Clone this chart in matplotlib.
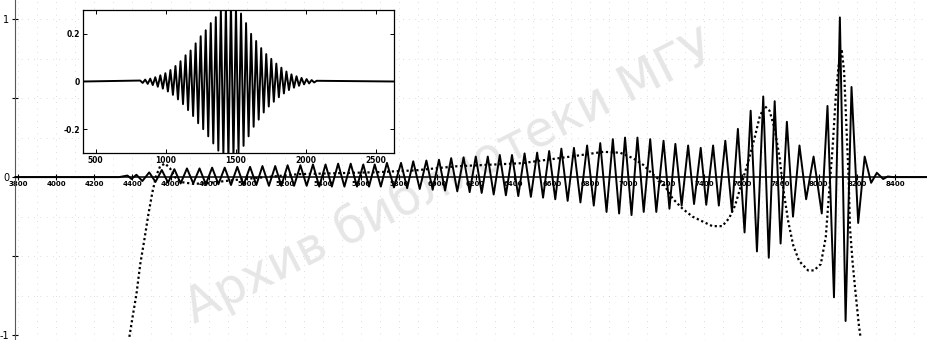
import matplotlib
matplotlib.use('Agg')
import matplotlib.pyplot as plt
import numpy as np
from matplotlib.ticker import FixedLocator

# --- main trace: peaks and troughs ---
peak_x = [4488, 4554, 4620, 4686, 4752, 4818, 4884, 4950, 5017, 5082,
          5149, 5214, 5281, 5347, 5413, 5479, 5545, 5611, 5671, 5735,
          5809, 5873, 5942, 6008, 6072, 6137, 6201, 6264, 6327, 6391,
          6457, 6523, 6586, 6650, 6716, 6785, 6854, 6920, 6984, 7049,
          7116, 7186, 7248, 7315, 7381, 7446, 7510, 7576, 7643, 7709,
          7769, 7833, 7899, 7973, 8046, 8111, 8172, 8241, 8305]
peak_y = [0.03, 0.045, 0.05, 0.055, 0.055, 0.06, 0.06, 0.065, 0.065, 0.07,
          0.07, 0.075, 0.075, 0.08, 0.08, 0.085, 0.085, 0.08, 0.08, 0.09,
          0.09, 0.10, 0.105, 0.11, 0.12, 0.125, 0.13, 0.13, 0.14, 0.14,
          0.15, 0.155, 0.165, 0.18, 0.185, 0.20, 0.215, 0.24, 0.25, 0.25,
          0.24, 0.23, 0.21, 0.20, 0.185, 0.20, 0.23, 0.305, 0.42, 0.51,
          0.48, 0.35, 0.20, 0.13, 0.45, 1.01, 0.57, 0.13, 0.027]
trough_x = [4521, 4587, 4653, 4719, 4785, 4851, 4917, 4983, 5050, 5116,
            5181, 5248, 5314, 5380, 5446, 5512, 5578, 5641, 5703, 5772,
            5841, 5907, 5975, 6040, 6104, 6169, 6232, 6295, 6359, 6424,
            6490, 6554, 6618, 6683, 6750, 6820, 6887, 6953, 7018, 7082,
            7148, 7217, 7281, 7346, 7410, 7476, 7545, 7611, 7676, 7738,
            7800, 7865, 7934, 8016, 8080, 8141, 8207, 8275]
trough_y = [-0.03, -0.035, -0.04, -0.04, -0.045, -0.045, -0.05, -0.05, -0.05, -0.055,
            -0.055, -0.055, -0.055, -0.06, -0.06, -0.06, -0.06, -0.06, -0.06, -0.065,
            -0.07, -0.075, -0.08, -0.085, -0.09, -0.095, -0.10, -0.11, -0.115, -0.12,
            -0.125, -0.13, -0.14, -0.15, -0.16, -0.18, -0.22, -0.23, -0.24, -0.22,
            -0.22, -0.20, -0.18, -0.17, -0.175, -0.18, -0.22, -0.35, -0.47, -0.51,
            -0.42, -0.25, -0.14, -0.23, -0.76, -0.91, -0.29, -0.036]
# flat lead-in / tail with the small wiggles
lead_x = [3784, 4330, 4374, 4395, 4421, 4452]
lead_y = [0, 0, 0.01, -0.012, 0.015, -0.025]
tail_x = [8338, 8362, 8390, 8568]
tail_y = [-0.012, 0.004, 0, 0]

# --- dotted trace ---
dot_x = [4384, 4400, 4421, 4441, 4462, 4483, 4504, 4524, 4545, 4571,
         4597, 4623, 4654, 4721, 4799, 4928, 5099, 5276, 5483, 5680,
         5887, 6094, 6441, 6700, 6871, 6959, 7027, 7079, 7130, 7182,
         7234, 7286, 7338, 7390, 7442, 7494, 7530, 7561, 7597, 7633,
         7664, 7690, 7716, 7742, 7768, 7794, 7814, 7840, 7866, 7897,
         7944, 7975, 8011, 8037, 8053, 8073, 8089, 8104, 8120, 8133,
         8146, 8157, 8164, 8177, 8193, 8211, 8219]
dot_y = [-1.01, -0.89, -0.74, -0.55, -0.40, -0.24, -0.10, 0.006, 0.068, 0.086,
         0.056, 0.0, -0.031, -0.043, -0.037, -0.019, 0.0, 0.019, 0.025, 0.031,
         0.043, 0.068, 0.088, 0.13, 0.16, 0.154, 0.119, 0.078, 0.017, -0.035,
         -0.136, -0.20, -0.25, -0.28, -0.31, -0.31, -0.26, -0.18, -0.035, 0.11,
         0.25, 0.38, 0.45, 0.42, 0.31, 0.13, -0.074, -0.28, -0.43, -0.53,
         -0.59, -0.59, -0.55, -0.38, -0.12, 0.19, 0.50, 0.70, 0.81, 0.67,
         0.30, -0.01, -0.32, -0.53, -0.73, -0.94, -1.01]

# --- inset wave packet ---
ins_peak_x = [818, 854, 890, 926, 962, 998, 1034, 1070, 1106, 1142,
              1178, 1214, 1250, 1286, 1322, 1358, 1394, 1430, 1466, 1502,
              1538, 1574, 1610, 1646, 1682, 1718, 1754, 1790, 1826, 1862,
              1898, 1934, 1970, 2006, 2042, 2078]
ins_peak_y = [0.004, 0.008, 0.012, 0.018, 0.026, 0.035, 0.048, 0.065, 0.085, 0.11,
              0.13, 0.16, 0.19, 0.215, 0.245, 0.27, 0.30, 0.32, 0.33, 0.31,
              0.285, 0.245, 0.20, 0.17, 0.14, 0.115, 0.095, 0.075, 0.058, 0.042,
              0.03, 0.022, 0.015, 0.01, 0.006, 0.003]
ins_trough_x = [836, 872, 908, 944, 980, 1016, 1052, 1088, 1124, 1160,
                1196, 1232, 1268, 1304, 1340, 1376, 1412, 1448, 1484, 1520,
                1556, 1592, 1628, 1664, 1700, 1736, 1772, 1808, 1844, 1880,
                1916, 1952, 1988, 2024, 2060]
ins_trough_y = [-0.006, -0.01, -0.015, -0.022, -0.03, -0.042, -0.056, -0.075, -0.095, -0.12,
                -0.145, -0.175, -0.2, -0.23, -0.26, -0.29, -0.31, -0.33, -0.32, -0.3,
                -0.27, -0.23, -0.19, -0.16, -0.13, -0.105, -0.085, -0.066, -0.05, -0.036,
                -0.026, -0.018, -0.012, -0.008, -0.004]
ins_edge_x = [410, 2630]

main_xticks = list(range(3800, 8401, 200))
ins_xticks = [500, 1000, 1500, 2000, 2500]
ins_yticks = [-0.2, 0, 0.2]
ins_ylabels = ['-0.2', '0', '0.2']


def merge(*pairs):
    xs = np.concatenate([np.asarray(p[0], float) for p in pairs])
    ys = np.concatenate([np.asarray(p[1], float) for p in pairs])
    order = np.argsort(xs)
    return xs[order], ys[order]


sig_x, sig_y = merge((lead_x, lead_y), (peak_x, peak_y), (trough_x, trough_y), (tail_x, tail_y))
pk_x, pk_y = merge((ins_edge_x, [0, 0]), (ins_peak_x, ins_peak_y), (ins_trough_x, ins_trough_y))

W, H = 927, 340
fig = plt.figure(figsize=(W / 100, H / 100), dpi=100)
fig.patch.set_facecolor('white')

ax = fig.add_axes([15 / W, 0, 912 / W, 1])
ax.set_facecolor('none')
ax.set_xlim(3784, 8568)
ax.set_ylim(-1.03, 1.12)

# faint dotted grid of the scan
for gx in np.arange(3800, 8568, 100):
    ax.axvline(gx, color='0.75', lw=0.5, ls=(0, (1, 8)), zorder=0)
for gy in [-0.75, -0.5, -0.25, 0.25, 0.5, 0.75, 1.0]:
    ax.axhline(gy, color='0.75', lw=0.5, ls=(0, (1, 8)), zorder=0)

# watermark
ax.text(450 / W, 1 - 178 / H, 'Архив библиотеки МГУ', transform=fig.transFigure,
        rotation=27, rotation_mode='anchor', ha='center', va='center',
        fontsize=35, color='0.9', zorder=0.5, clip_on=False)

ax.plot(sig_x, sig_y, color='black', lw=1.4, zorder=3, solid_joinstyle='round')
ax.plot(dot_x, dot_y, color='black', lw=1.6, ls=(0, (1, 1.2)), zorder=3)

for s in ['top', 'right']:
    ax.spines[s].set_visible(False)
ax.spines['bottom'].set_position(('data', 0))
ax.spines['bottom'].set_linewidth(1.1)
ax.spines['left'].set_linewidth(0.8)
ax.spines['left'].set_color('0.35')

ax.xaxis.set_major_locator(FixedLocator(main_xticks))
ax.set_xticklabels([str(v) for v in main_xticks], fontsize=5, fontweight='bold')
ax.tick_params(axis='x', direction='inout', length=4, width=0.8, pad=1)
ax.yaxis.set_major_locator(FixedLocator([-1, 0, 1]))
ax.yaxis.set_minor_locator(FixedLocator([-0.5, 0.5]))
ax.set_yticklabels(['-1', '0', '1'], fontsize=7)
ax.tick_params(axis='y', which='both', direction='inout', length=4, width=0.8, pad=2)

# inset
ins = fig.add_axes([83 / W, 1 - 153 / H, 311 / W, 143 / H])
ins.set_facecolor('white')
ins.plot(pk_x, pk_y, color='black', lw=1.4)
ins.set_xlim(410, 2630)
ins.set_ylim(-0.3, 0.3)
ins.set_xticks(ins_xticks)
ins.set_xticklabels([str(v) for v in ins_xticks], fontsize=5.5, fontweight='bold')
ins.set_yticks(ins_yticks)
ins.set_yticklabels(ins_ylabels, fontsize=5.5, fontweight='bold')
ins.tick_params(direction='in', length=3, width=0.7, top=True, right=True, pad=2)
for s in ins.spines.values():
    s.set_linewidth(0.9)

fig.savefig('out.png', dpi=100)
